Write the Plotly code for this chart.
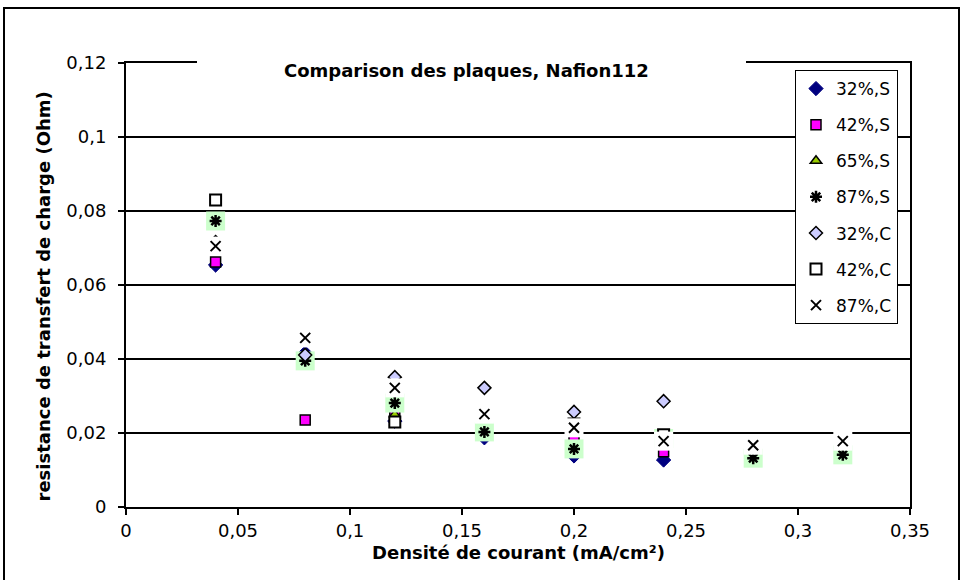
import plotly.graph_objects as go

W, H = 963, 580
L, R, T, B = 126, 53, 63, 73
PW, PH = W - L - R, H - T - B


def px(x):
    return (x - L) / PW


def py(y):
    return (H - B - y) / PH


densite = [0.04, 0.08, 0.12, 0.16, 0.20, 0.24, 0.28, 0.32]

s32 = [0.0654, 0.0416, 0.0232, 0.0187, 0.0138, 0.0127, None, None]
s42 = [0.0662, 0.0235, 0.0254, None, 0.0186, 0.0149, None, None]
s65 = [None, 0.0380, 0.0249, None, None, None, None, 0.0135]
s87 = [0.0773, 0.0395, 0.0281, 0.0203, 0.0157, 0.0185, 0.0132, 0.0141]
c32 = [0.0716, 0.0411, 0.0351, 0.0322, 0.0257, 0.0286, None, None]
c42 = [0.0830, None, 0.0230, None, 0.0224, 0.0195, None, None]
c87 = [0.0705, 0.0457, 0.0322, 0.0251, 0.0214, 0.0178, 0.0167, 0.0178]

yticks = [0, 0.02, 0.04, 0.06, 0.08, 0.1, 0.12]
ytext = ["0", "0,02", "0,04", "0,06", "0,08", "0,1", "0,12"]
xticks = [0, 0.05, 0.1, 0.15, 0.2, 0.25, 0.3, 0.35]
xtext = ["0", "0,05", "0,1", "0,15", "0,2", "0,25", "0,3", "0,35"]

FONT = "DejaVu Sans, Arial, sans-serif"

fig = go.Figure()


def add(name, vals, symbol, color, size, lw=1.5, lc="black", bg=None, group=None):
    if bg:
        fig.add_trace(go.Scatter(
            x=densite, y=vals, mode="markers", showlegend=False,
            legendgroup=group, hoverinfo="skip",
            marker=dict(symbol="square", size=19, color=bg, line=dict(width=0))))
    fig.add_trace(go.Scatter(
        x=densite, y=vals, mode="markers", name=name, legendgroup=group,
        marker=dict(symbol=symbol, size=size, color=color,
                    line=dict(width=lw, color=lc))))


add("32%,S", s32, "diamond", "#000080", 11, lw=1, lc="#000080", group="a")
add("42%,S", s42, "square", "#FF00FF", 10, group="b")
add("65%,S", s65, "triangle-up", "#99CC00", 10, group="c")
add("87%,S", s87, "asterisk-open", "black", 10, lw=2.5, bg="#CCFFCC", group="d")
add("32%,C", c32, "diamond", "#CCCCFF", 10, group="e")
add("42%,C", c42, "square", "white", 11, lw=2, group="f")
add("87%,C", c87, "x-thin-open", "black", 10, lw=2, bg="white", group="g")

axis_common = dict(
    showline=True, linecolor="black", linewidth=2, mirror=True,
    ticks="outside", ticklen=6, tickcolor="black", tickwidth=2,
    tickfont=dict(family=FONT, size=18, color="black"),
    zeroline=False,
)

fig.update_xaxes(range=[0, 0.35], tickvals=xticks, ticktext=xtext,
                 showgrid=False, **axis_common)
fig.update_yaxes(range=[0, 0.12], tickvals=yticks, ticktext=ytext,
                 showgrid=True, gridcolor="black", gridwidth=1.5,
                 ticklabelstandoff=8, **axis_common)

fig.update_layout(
    width=W, height=H,
    margin=dict(l=L, r=R, t=T, b=B),
    paper_bgcolor="white", plot_bgcolor="white",
    font=dict(family=FONT, color="black"),
    legend=dict(
        x=px(795), y=py(70), xanchor="left", yanchor="top",
        bgcolor="white", bordercolor="black", borderwidth=1,
        font=dict(family=FONT, size=17, color="black"),
        traceorder="grouped", tracegroupgap=11,
    ),
    shapes=[
        dict(type="rect", xref="paper", yref="paper",
             x0=px(197), x1=px(746), y0=py(72), y1=py(48),
             fillcolor="white", line=dict(width=0), layer="above"),
        dict(type="rect", xref="paper", yref="paper",
             x0=px(4), x1=px(959), y0=py(8), y1=py(600),
             fillcolor="rgba(0,0,0,0)", line=dict(color="black", width=2),
             layer="above"),
    ],
    annotations=[
        dict(text="<b>Comparison des plaques, Nafion112</b>", xref="paper", yref="paper",
             x=px(466), y=py(58), showarrow=False,
             font=dict(family=FONT, size=18, color="black")),
        dict(text="<b>Densité de courant (mA/cm²)</b>", xref="paper", yref="paper",
             x=px(518), y=py(565), showarrow=False,
             font=dict(family=FONT, size=18, color="black")),
        dict(text="<b>resistance de transfert de charge (Ohm)</b>", xref="paper", yref="paper",
             x=px(30), y=py(297), showarrow=False, textangle=-90,
             font=dict(family=FONT, size=18, color="black")),
    ],
)

# the page body has an 8px margin by default; remove it so the figure sits at 0,0
fig.write_html("out.html", config={"displayModeBar": False},
               post_script="document.body.style.margin='0';")
